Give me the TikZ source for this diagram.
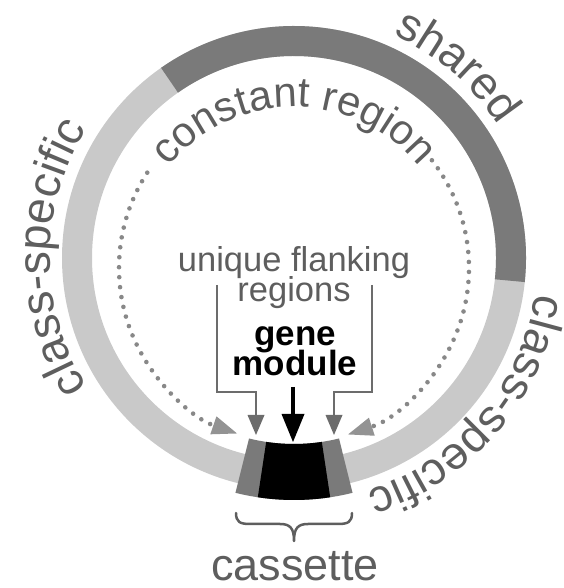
\documentclass[tikz,border=0pt]{standalone}
\usepackage{fontspec}
\setmainfont{Liberation Sans}
\usetikzlibrary{arrows.meta,decorations.text}

\definecolor{ringlight}{HTML}{C9C9C9}
\definecolor{ringdark}{HTML}{7A7A7A}
\definecolor{labelgray}{HTML}{5E5E5E}
\definecolor{linegray}{HTML}{6C6C6C}
\definecolor{dotgray}{HTML}{888888}
\definecolor{headgray}{HTML}{939393}

\newcommand\outerlabelfont{\fontsize{46}{46}\selectfont}
\newcommand\innerarcfont{\fontsize{42}{42}\selectfont}

\begin{document}
\begin{tikzpicture}[x=1pt,y=1pt,
  ringband/.style={line width=30pt},
  arclabel/.style={decorate, decoration={text along path, text align=center, text color=labelgray}},
  innerlabel/.style={text=labelgray, font=\fontsize{34.5}{34.5}\selectfont, inner sep=0pt, anchor=base},
  genelabel/.style={text=black, font=\fontsize{35}{35}\selectfont\bfseries, inner sep=0pt, anchor=base},
  bottomlabel/.style={text=labelgray, font=\fontsize{45}{45}\selectfont, inner sep=0pt, anchor=base},
  flankarrow/.style={draw=linegray, line width=2.5pt, -{Triangle[width=17pt,length=20pt,line width=0pt]}},
  genearrow/.style={draw=black, line width=4pt, -{Triangle[width=23pt,length=28pt,line width=0pt]}},
  dotarc/.style={draw=dotgray, line width=4.6pt, line cap=round, dash pattern=on 0pt off 10pt,
    -{Triangle[width=19pt,length=25pt,line width=0pt,color=headgray]}},
  bracestroke/.style={draw=labelgray, line width=2.5pt, line cap=round, line join=round}
]
  \useasboundingbox (0,0) rectangle (563,588);

  % centres of the ring and of the inner dotted circle
  \coordinate (C) at (294,330);
  \coordinate (D) at (294,320);

  % ring: class-specific (light) and shared (dark) parts
  \draw[ringband, ringlight] (C) circle[radius=217];
  \draw[ringband, ringdark] ([shift={(-6:217)}]C) arc[start angle=-6, end angle=125, radius=217];

  % cassette: flanking regions with the gene module in the middle
  \fill[ringdark] ([shift={(-104:186)}]C) arc[start angle=-104, end angle=-76, radius=186]
    -- ([shift={(-76:242)}]C) arc[start angle=-76, end angle=-104, radius=242] -- cycle;
  \fill[black] ([shift={(-98.6:186)}]C) arc[start angle=-98.6, end angle=-81.4, radius=186]
    -- ([shift={(-81.4:242)}]C) arc[start angle=-81.4, end angle=-98.6, radius=242] -- cycle;

  % labels around the ring
  \path[arclabel, decoration={text={|\outerlabelfont|class-specific}}]
    ([shift={(235:244)}]C) arc[start angle=235, end angle=125, radius=244];
  \path[arclabel, decoration={text={|\outerlabelfont|shared}}]
    ([shift={(85:244)}]C) arc[start angle=85, end angle=14, radius=244];
  \path[arclabel, decoration={text={|\outerlabelfont|class-specific}}]
    ([shift={(15:244)}]C) arc[start angle=15, end angle=-96, radius=244];

  % constant region label inside the ring
  \path[arclabel, decoration={text={|\innerarcfont|constant region}}]
    ([shift={(165:161)}]D) arc[start angle=165, end angle=15, radius=161];

  % dotted return paths towards the cassette
  \draw[dotarc] ([shift={(147:175)}]D) arc[start angle=147, end angle=251, radius=175];
  \draw[dotarc] ([shift={(38:175)}]D) arc[start angle=38, end angle=-72, radius=175];

  % centre labels
  \node[innerlabel] (uq1) at (294,316) {unique flanking};
  \node[innerlabel] (uq2) at (294,286) {regions};
  \node[genelabel] (gn1) at (295,242) {gene};
  \node[genelabel] (gn2) at (295,212) {module};

  % pointers to the flanking regions and the gene module
  \coordinate (flankL) at (217,303);
  \coordinate (jointL) at (256,196);
  \coordinate (tipL) at (256,153);
  \coordinate (flankR) at (372,303);
  \coordinate (jointR) at (334,196);
  \coordinate (tipR) at (334,153);
  \coordinate (geneTail) at (293,201);
  \coordinate (geneTip) at (293,146);
  \draw[flankarrow] (flankL) |- (jointL) -- (tipL);
  \draw[flankarrow] (flankR) |- (jointR) -- (tipR);
  \draw[genearrow] (geneTail) -- (geneTip);

  % brace under the cassette
  \coordinate (braceL) at (236,75);
  \coordinate (braceR) at (352,75);
  \coordinate (braceTip) at (294,47);
  \draw[bracestroke] (braceL) .. controls (236,66) and (240,64) .. (250,64) -- (280,64)
    .. controls (290,64) and (294,60) .. (braceTip)
    .. controls (294,60) and (298,64) .. (308,64) -- (338,64)
    .. controls (348,64) and (352,66) .. (braceR);
  \node[bottomlabel] (cas) at (295,7) {cassette};
\end{tikzpicture}
\end{document}
